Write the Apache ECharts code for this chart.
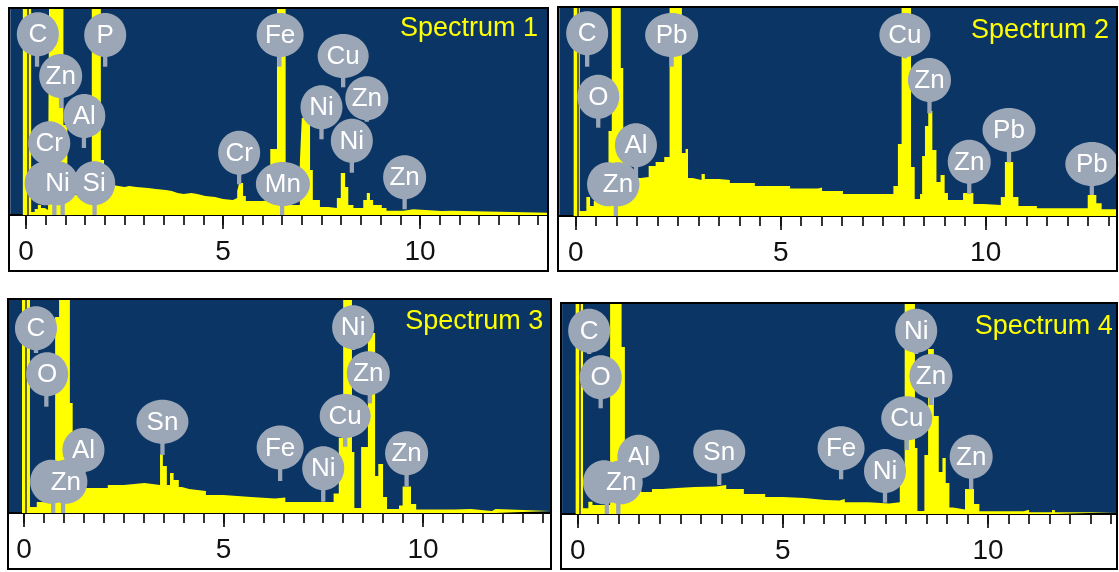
<!DOCTYPE html>
<html><head><meta charset="utf-8">
<script src="https://cdn.jsdelivr.net/npm/echarts@6/dist/echarts.min.js"></script>
<style>html,body{margin:0;padding:0;background:#fff}#c{width:1119px;height:572px}</style>
</head><body><div id="c"></div>
<script>
// ---------- DATA (energy keV, counts in arbitrary units; counts above axis max are off-scale) ----------
const spectrumTitles = ['Spectrum 1', 'Spectrum 2', 'Spectrum 3', 'Spectrum 4'];
const majorTickValues = [0, 5, 10];
const minorTickValues = [0,0.5,1,1.5,2,2.5,3,3.5,4,4.5,5,5.5,6,6.5,7,7.5,8,8.5,9,9.5,10,10.5,11,11.5,12,12.5,13];
const zeroStrobeEnergy = 0.05;

const spectrum1 = [[-0.4,0],[-0.08,400],[0.13,3],[0.22,6],[0.3,10],[0.38,7],[0.48,5],[0.56,30],[0.61,400],[0.95,90],[1.05,45],[1.15,25],[1.25,20],[1.42,32],[1.55,22],[1.67,400],[1.9,55],[1.98,38],[2.08,30],[2.2,28],[2.5,29],[2.62,28],[2.8,27],[3.1,26],[3.3,25],[3.55,24],[3.7,22],[3.85,21],[4.0,22],[4.2,21],[4.35,19],[4.55,18],[4.8,16],[5.0,15],[5.25,17],[5.36,24],[5.41,32],[5.51,19],[5.58,14],[6.0,15],[6.2,66],[6.37,400],[6.59,18],[6.7,10],[6.95,52],[7.0,97],[7.21,45],[7.28,15],[7.46,8],[7.67,7],[7.89,17],[7.99,42],[8.1,28],[8.18,10],[8.31,7],[8.56,15],[8.65,22],[8.73,15],[8.81,10],[9.03,7],[9.15,4.3],[9.58,5.7],[9.83,4],[10.55,4.3],[10.8,2.3],[13.25,2.3]];
const spectrum2 = [[-0.4,0],[-0.05,400],[0.1,5],[0.26,19],[0.35,10],[0.44,15],[0.72,40],[0.8,85],[0.88,400],[1.1,148],[1.16,70],[1.3,45],[1.45,42],[1.52,38],[1.59,39],[1.78,50],[1.95,54],[2.16,59],[2.29,400],[2.59,63],[2.68,67],[2.74,38],[2.85,36],[3.07,42],[3.15,37],[3.5,36],[3.76,33],[4.37,30],[5.23,27.6],[5.91,28.5],[6.01,25],[6.52,22],[7.75,30],[7.86,72],[7.95,400],[8.18,49],[8.27,17],[8.4,22],[8.45,60],[8.52,90],[8.6,105],[8.7,66],[8.8,34],[8.9,41],[9.0,23],[9.08,16],[9.45,23],[9.7,12],[9.95,11],[10.37,19],[10.47,54],[10.67,19],[10.8,10],[11.25,7.7],[12.49,21],[12.7,12.7],[12.83,6.7],[13.18,6.7]];
const spectrum3 = [[-0.4,0],[-0.05,400],[0.15,6],[0.32,11],[0.44,10],[0.78,196],[0.88,400],[1.15,110],[1.22,50],[1.3,32],[1.45,28],[1.55,25],[2.1,28],[2.5,30],[3.02,28],[3.41,59],[3.48,47],[3.58,28],[3.66,40],[3.75,33],[3.88,26],[3.96,24],[4.14,22],[4.56,18],[5.0,16],[5.69,14.5],[6.29,15.5],[6.55,11],[7.76,19.6],[7.89,75],[8.0,400],[8.22,61],[8.28,5],[8.45,66],[8.62,180],[8.8,37],[8.88,49],[9.0,16],[9.1,4],[9.4,7.6],[9.49,26.5],[9.7,9],[9.83,3.4],[10.78,4],[11.2,2],[11.73,4],[11.82,2],[13.21,2]];
const spectrum4 = [[-0.4,0],[-0.05,400],[0.13,5.7],[0.26,12.3],[0.36,9],[0.79,400],[1.07,167],[1.15,60],[1.25,35],[1.4,25],[1.55,22],[1.81,25],[2.07,26],[2.42,27],[2.85,27.6],[3.37,29],[3.62,25],[4.05,20],[4.57,17],[5.0,16],[5.52,14],[6.04,13.5],[6.38,15],[6.51,11.7],[7.08,10.6],[7.59,11.7],[7.85,49],[7.97,400],[8.22,66],[8.28,3],[8.45,59],[8.54,165],[8.68,98],[8.8,42],[8.89,56],[8.97,31],[9.06,6.4],[9.15,4.6],[9.44,25],[9.66,10],[9.79,2.8],[10.87,4.2],[11.0,1.8],[11.56,4],[11.63,1.8],[13.12,1.8]];

// element labels: [bubble energy, bubble level, stem energy, stem end level]
const labels1 = [[0.30,180.7,0.28,148.3],[0.88,139,0.89,107],[2.01,180,2.01,148.3],[1.48,99,1.47,67],[0.59,71.7,0.59,50],[0.50,31.7,0.72,0],[0.80,31.7,0.93,0],[1.73,31.7,1.74,0],[6.45,180,6.43,148.3],[5.41,62.3,5.41,30.7],[6.52,31,6.5,0],[8.05,159,8.05,127.7],[8.65,116.7,8.65,93.3],[7.5,107.7,7.5,75.7],[8.27,74.3,8.27,42.3],[9.61,37.7,9.61,5.7]];
const labelText1 = ['C','Zn','P','Al','Cr','','Ni','Si','Fe','Cr','Mn','Cu','Zn','Ni','Ni','Zn'];
const labels2 = [[0.28,182.7,0.28,149.3],[0.55,119.3,0.55,88.3],[1.47,70.7,1.47,40],[0.79,31.7,0.79,31.7],[1.03,31.7,0.98,0],[2.34,181,2.34,149.3],[8.03,181,8.03,157.7],[8.63,136,8.63,102.7],[9.6,54.3,9.6,22],[10.57,86,10.57,53.7],[12.59,52,12.59,21]];
const labelText2 = ['C','O','Al','','Zn','Pb','Cu','Zn','Zn','Pb','Pb'];
const labels3 = [[0.30,184.7,0.30,160],[0.58,138.7,0.56,106.3],[1.49,63,1.49,40],[0.68,31.3,0.73,0],[1.05,31.3,0.98,0],[3.47,91.3,3.47,58],[6.42,65.5,6.42,32],[7.5,44.7,7.5,11.3],[8.25,185.7,8.25,163],[8.63,139.7,8.67,109.7],[8.05,97,8.05,66.3],[9.59,59.7,9.59,26.3]];
const labelText3 = ['C','O','Al','','Zn','Sn','Fe','Ni','Ni','Zn','Cu','Zn'];
const labels4 = [[0.28,183.3,0.28,160],[0.56,136.7,0.56,105.7],[1.48,57.3,1.48,40],[0.64,31.7,0.71,0],[1.06,31.7,0.99,0],[3.45,62.3,3.45,29],[6.42,65.7,6.42,34.7],[7.49,43,7.49,11.3],[8.25,183.3,8.25,160],[8.61,138,8.61,109],[8.02,95.7,8.02,64],[9.59,57.3,9.59,24.7]];
const labelText4 = ['C','O','Al','','Zn','Sn','Fe','Ni','Ni','Zn','Cu','Zn'];

// ---------- STYLE / LAYOUT ----------
const FONT = '"Liberation Sans", Arial, sans-serif';
const BLUE = '#0a3565';
const YELLOW = '#ffff00';
const GREY = '#9ba6b7';
const BUBBLE_RX = {C:21,O:21,Zn:21.5,Al:21,Ni:21,Cr:21,Si:21,P:21,Cu:25.5,Mn:27,Pb:26.5,Sn:26,Fe:23.5,'':21};

const panels = [
  {data: spectrum1, labels: labels1, texts: labelText1, grid:{left:10.24, top:9, width:537.8, height:206}, min:-0.4, max:13.25, title:{right:581, top:15}, frame:[9,8,539,263]},
  {data: spectrum2, labels: labels2, texts: labelText2, grid:{left:559.3, top:8, width:556.7, height:208}, min:-0.4, max:13.18, title:{right:10, top:17}, frame:[558,7,559,264]},
  {data: spectrum3, labels: labels3, texts: labelText3, grid:{left:8.84, top:300, width:542.2, height:213}, min:-0.38, max:13.21, title:{right:575.7, top:307.7}, frame:[8,299,543,270]},
  {data: spectrum4, labels: labels4, texts: labelText4, grid:{left:562.1, top:304, width:553.9, height:210}, min:-0.38, max:13.12, title:{right:6.3, top:312.7}, frame:[561,303,556,266]}
];

function makeRender(texts) {
  return function (params, api) {
    const t = texts[params.dataIndex];
    const c = api.coord([api.value(0), api.value(1)]);
    const s0 = api.coord([api.value(2), api.value(1)]);
    const s1 = api.coord([api.value(2), api.value(3)]);
    const rx = BUBBLE_RX[t] || 21;
    const children = [];
    if (s1[1] - s0[1] > 0.5) {
      children.push({type:'rect', shape:{x:s0[0]-2.15, y:s0[1], width:4.3, height:s1[1]-s0[1]}, style:{fill:GREY}});
    }
    children.push({type:'ellipse', shape:{cx:c[0], cy:c[1], rx:rx, ry:22}, style:{fill:GREY}});
    if (t) {
      children.push({type:'text', style:{text:t, x:c[0], y:c[1]+1, align:'center', verticalAlign:'middle', fill:'#ffffff', font:'26px ' + FONT}});
    }
    return {type:'group', children: children};
  };
}

const option = {animation:false, grid:[], xAxis:[], yAxis:[], series:[], title:[], graphic:[]};
panels.forEach(function (p, i) {
  option.grid.push(Object.assign({show:true, backgroundColor:BLUE, borderWidth:0, containLabel:false, outerBoundsMode:'none'}, p.grid));
  option.xAxis.push({gridIndex:i, type:'value', min:p.min, max:p.max, position:'bottom',
    axisLine:{show:true, onZero:false, lineStyle:{color:'#000', width:2}},
    axisTick:{show:true, customValues:minorTickValues, length:10, lineStyle:{color:'#111', width:1.7}},
    axisLabel:{show:false}, splitLine:{show:false}});
  option.xAxis.push({gridIndex:i, type:'value', min:p.min, max:p.max, position:'bottom',
    axisLine:{show:false, onZero:false},
    axisTick:{show:true, customValues:majorTickValues, length:14, lineStyle:{color:'#111', width:1.7}},
    axisLabel:{show:true, customValues:majorTickValues, fontSize:28, color:'#111', margin:23, fontFamily:FONT},
    splitLine:{show:false}});
  option.yAxis.push({gridIndex:i, type:'value', min:0, max:p.grid.height, show:false, splitLine:{show:false}});
  option.series.push({type:'line', xAxisIndex:2*i, yAxisIndex:i, data:p.data, step:'end', symbol:'none', showSymbol:false,
    lineStyle:{width:0, color:YELLOW}, areaStyle:{color:YELLOW, opacity:1}, clip:true, silent:true,
    markLine:{silent:true, symbol:['none','none'], label:{show:false}, animation:false,
      lineStyle:{color:'#333', width:1.5, type:'solid'}, data:[{xAxis:zeroStrobeEnergy}]}});
  option.series.push({type:'custom', xAxisIndex:2*i, yAxisIndex:i, data:p.labels, renderItem:makeRender(p.texts), silent:true, z:5, clip:false});
  option.title.push({text:spectrumTitles[i], right:p.title.right, top:p.title.top, padding:0,
    textStyle:{color:YELLOW, fontSize:27, fontWeight:'normal', fontFamily:FONT}});
  option.graphic.push({type:'rect', z:100, silent:true, shape:{x:p.frame[0], y:p.frame[1], width:p.frame[2], height:p.frame[3]},
    style:{fill:'none', stroke:'#000', lineWidth:2}});
});

const chart = echarts.init(document.getElementById('c'), null, {renderer:'canvas'});
chart.setOption(option);
</script></body></html>
